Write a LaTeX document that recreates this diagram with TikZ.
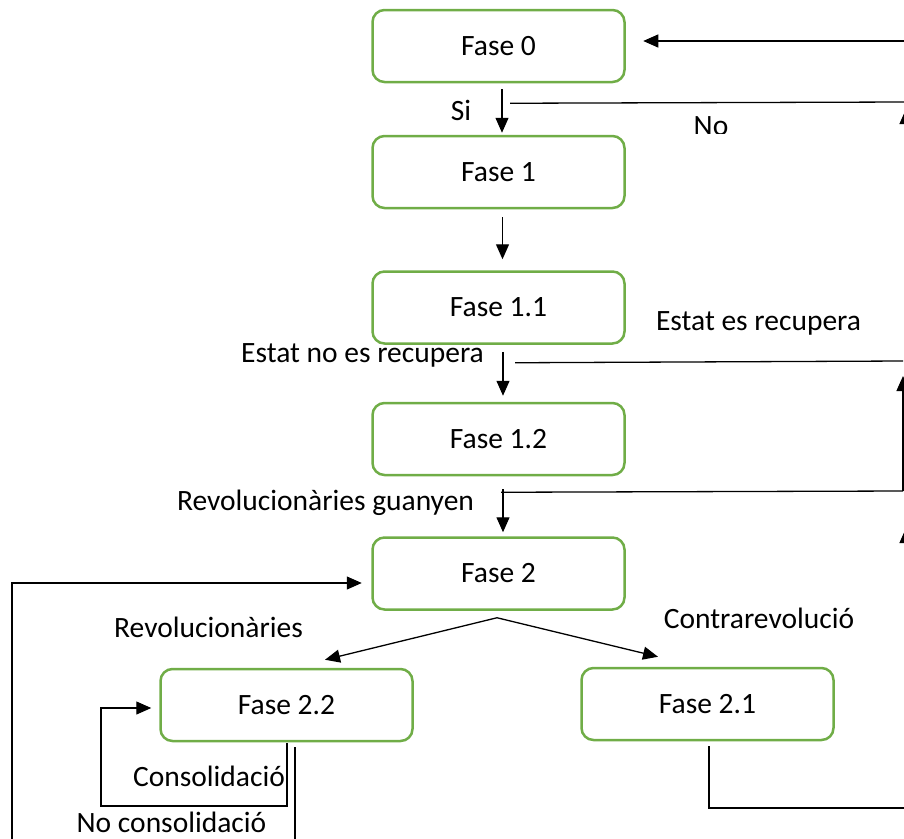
\documentclass[tikz,border=0pt]{standalone}
\usepackage{fontspec}
\setmainfont{Carlito}
\usetikzlibrary{arrows.meta}
\definecolor{fasegreen}{HTML}{70AD47}

\begin{document}
\begin{tikzpicture}[x=1pt,y=-1pt,
    font=\fontsize{29.5}{35}\selectfont,
    fase/.style={draw=fasegreen,line width=2.5pt,rounded corners=12pt,
      minimum width=252pt,minimum height=72pt,inner sep=0pt},
    conn/.style={line width=1.3pt,-{Triangle[length=15pt,width=13pt]}},
    link/.style={line width=1.3pt},
    lbl/.style={inner sep=0pt}]
          \clip (0,0) rectangle (904,838);

          % phases
          \node[fase] (f0) at (498.5,46) {Fase 0};
          \node[fase] (f1) at (498.5,172) {Fase 1};
          \node[fase] (f11) at (498.5,307.5) {Fase 1.1};
          \node[fase] (f12) at (498.5,439) {Fase 1.2};
          \node[fase] (f2) at (498.5,573.5) {Fase 2};
          \node[fase] (f22) at (286.5,705) {Fase 2.2};
          \node[fase] (f21) at (707.5,704) {Fase 2.1};

          % loose ends at the border
          \coordinate (topin) at (906,41);
          \coordinate (noout) at (906,102);
          \coordinate (nofoot) at (906,150);
          \coordinate (nohead) at (906,109);
          \coordinate (recout) at (903,361);
          \coordinate (guout) at (903,491);
          \coordinate (recup) at (903,376);
          \coordinate (lowfoot) at (906,585);
          \coordinate (lowhead) at (906,528);
          \coordinate (leftfoot) at (12,845);
          \coordinate (leftcorner) at (12,583);
          \coordinate (loopcorner) at (101,806);
          \coordinate (consfoot) at (295,845);
          \coordinate (contraout) at (910,808);

          % main column
          \draw[conn] ([xshift=3.5pt,yshift=-6pt]f0.south) -- ([xshift=3.5pt,yshift=2pt]f1.north);
          \draw[conn] ([xshift=4pt,yshift=-8pt]f1.south) -- ([xshift=4pt,yshift=11pt]f11.north);
          \draw[conn] ([xshift=4.5pt,yshift=-7pt]f11.south) -- ([xshift=4.5pt,yshift=6pt]f12.north);
          \draw[conn] ([xshift=4.5pt,yshift=-13pt]f12.south) -- ([xshift=4.5pt,yshift=4pt]f2.north);

          % right side
          \draw[conn] (topin) -- ([xshift=17.5pt,yshift=5pt]f0.east);
          \draw[link] ([xshift=11.5pt,yshift=-20pt]f0.south) -- (noout);
          \draw[conn] (nofoot) -- (nohead);
          \draw[link] ([xshift=16.5pt,yshift=-18pt]f11.south) -- (recout);
          \draw[link] ([xshift=2.5pt,yshift=-16pt]f12.south) -- (guout);
          \draw[conn] (guout) -- (recup);
          \draw[conn] (lowfoot) -- (lowhead);

          % branches of phase 2
          \draw[conn] ([xshift=-1.5pt,yshift=-7pt]f2.south) -- ([xshift=38.5pt,yshift=8pt]f22.north);
          \draw[conn] ([xshift=-1.5pt,yshift=-7pt]f2.south) -- ([xshift=-49.5pt,yshift=10pt]f21.north);
          \draw[conn] (leftfoot) -- (leftcorner) -- ([xshift=-9.5pt,yshift=-9.5pt]f2.west);
          \draw[conn] ([xshift=.5pt,yshift=-1pt]f22.south) |- (loopcorner) |- ([xshift=-8pt,yshift=-3pt]f22.west);
          \draw[link] ([xshift=8.5pt,yshift=-5pt]f22.south) -- (consfoot);
          \draw[link] ([xshift=1.5pt,yshift=-5pt]f21.south) |- (contraout);

          % labels
          \node[lbl] (si) at (461,110) {Si};
          \begin{scope}
              \clip (650,100) rectangle (780,133);
              \node[lbl,anchor=base] (no) at (711,135) {No};
          \end{scope}
          \node[lbl] (estat) at (758.5,323) {Estat es recupera};
          \node[lbl] (estatno) at (362.5,355) {Estat no es recupera};
          \node[lbl] (guanyen) at (325.5,503) {Revolucionàries guanyen};
          \node[lbl] (revol) at (208.5,627) {Revolucionàries};
          \node[lbl] (contra) at (759,618) {Contrarevolució};
          \node[lbl] (consol) at (209,776) {Consolidació};
          \node[lbl] (nocons) at (171.5,822) {No consolidació};
        \end{tikzpicture}
\end{document}
